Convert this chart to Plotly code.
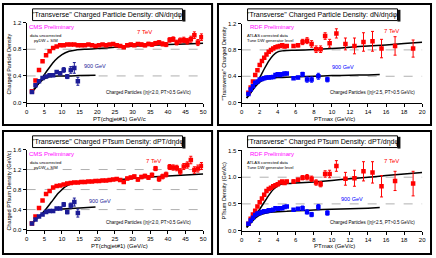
import plotly.graph_objects as go

W, H = 436, 258

# ---------------- data ----------------
# Panel 1: CMS, charged particle density vs PT(chgjet#1)
cms_x_7 = [1.5, 2.5, 3.5, 4.5, 5.5, 6.5, 7.5, 8.5, 9.5, 10.5, 11.5, 12.5, 13.5, 14.5, 15.5, 16.5, 17.5, 18.5, 19.5, 20.5,
           21.5, 22.5, 23.5, 24.5, 25.5, 26.5, 27.5, 28.5, 29.5, 30.5, 31.5, 32.5, 33.5, 34.5, 35.5, 36.5, 37.5, 38.5,
           39.5, 40.5, 41.5, 42.5, 43.5, 44.5, 45.5, 46.5, 47.5, 48.5, 49.5]
cms_dn_7 = [0.17, 0.33, 0.49, 0.62, 0.71, 0.77, 0.82, 0.84, 0.86, 0.86, 0.87, 0.87, 0.87, 0.86, 0.86, 0.86, 0.87, 0.86,
            0.85, 0.86, 0.87, 0.86, 0.87, 0.88, 0.86, 0.85, 0.83, 0.86, 0.87, 0.86, 0.88, 0.87, 0.86, 0.88, 0.87, 0.89,
            0.90, 0.88, 0.87, 0.94, 0.95, 0.90, 0.93, 0.94, 0.92, 0.95, 1.01, 0.90, 0.98]
cms_dn_7_err = [0.005, 0.005, 0.005, 0.005, 0.005, 0.005, 0.005, 0.005, 0.005, 0.006, 0.006, 0.007, 0.007, 0.008, 0.008,
                0.009, 0.009, 0.01, 0.01, 0.011, 0.012, 0.012, 0.013, 0.014, 0.015, 0.016, 0.017, 0.018, 0.019, 0.02,
                0.021, 0.022, 0.023, 0.024, 0.025, 0.027, 0.028, 0.03, 0.031, 0.033, 0.035, 0.036, 0.038, 0.04, 0.042,
                0.045, 0.05, 0.045, 0.05]
cms_x_900 = [1.5, 2.5, 3.5, 4.5, 5.5, 6.5, 7.5, 8.5, 9.5, 10.5, 11.5, 12.5, 13.5, 14.5]
cms_dn_900 = [0.16, 0.26, 0.32, 0.37, 0.39, 0.41, 0.41, 0.46, 0.44, 0.49, 0.39, 0.49, 0.52, 0.32]
cms_dn_900_err = [0.005, 0.005, 0.006, 0.008, 0.01, 0.012, 0.015, 0.018, 0.02, 0.035, 0.03, 0.05, 0.08, 0.06]
cms_dn_mc7_x = [1.5, 2.5, 3.5, 5, 6.5, 8, 10, 12, 14, 17, 20, 25, 30, 35, 40, 45, 50]
cms_dn_mc7 = [0.16, 0.22, 0.30, 0.42, 0.53, 0.63, 0.72, 0.77, 0.79, 0.80, 0.81, 0.83, 0.845, 0.86, 0.87, 0.88, 0.89]
cms_dn_mc900_x = [1.5, 2.5, 3.5, 4.5, 5.5, 7, 9, 12, 15, 19.5]
cms_dn_mc900 = [0.16, 0.23, 0.29, 0.34, 0.37, 0.39, 0.40, 0.40, 0.405, 0.41]

# Panel 2: RDF (ATLAS), transverse charged density vs PTmax
rdf_x_7 = [0.75, 1.0, 1.25, 1.5, 1.75, 2.0, 2.25, 2.5, 2.75, 3.0, 3.25, 3.5, 3.75, 4.0, 4.25, 4.5, 4.75, 5.0,
           5.75, 6.25, 6.75, 7.25, 7.75, 8.25, 8.75, 9.25, 9.75, 10.5, 11.5, 12.5, 13.5, 14.5, 15.5, 17.0, 19.0]
rdf_dn_7 = [0.15, 0.23, 0.32, 0.42, 0.49, 0.57, 0.63, 0.68, 0.73, 0.77, 0.80, 0.82, 0.84, 0.85, 0.86, 0.87, 0.85, 0.86,
            0.86, 0.87, 0.92, 0.94, 0.89, 0.81, 0.81, 1.01, 0.90, 1.05, 0.89, 0.86, 0.92, 0.93, 0.82, 0.86, 0.82]
rdf_dn_7_err = [0.005, 0.005, 0.006, 0.006, 0.007, 0.007, 0.008, 0.008, 0.009, 0.01, 0.01, 0.011, 0.012, 0.013, 0.014,
                0.015, 0.016, 0.018, 0.02, 0.025, 0.04, 0.045, 0.05, 0.05, 0.05, 0.05, 0.06, 0.07, 0.09, 0.12, 0.14,
                0.15, 0.14, 0.14, 0.13]
rdf_x_900 = [0.75, 1.0, 1.25, 1.5, 1.75, 2.0, 2.25, 2.5, 2.75, 3.0, 3.25, 3.5, 3.75, 4.0, 4.25, 4.5, 4.75, 5.0,
             5.75, 6.25, 6.75, 7.25, 7.75, 8.5, 9.5]
rdf_dn_900 = [0.13, 0.20, 0.25, 0.30, 0.32, 0.35, 0.36, 0.37, 0.38, 0.38, 0.385, 0.39, 0.42, 0.43, 0.42, 0.43, 0.44,
              0.44, 0.37, 0.38, 0.43, 0.35, 0.35, 0.40, 0.35]
rdf_dn_900_err = [0.005, 0.005, 0.005, 0.005, 0.006, 0.006, 0.007, 0.007, 0.008, 0.008, 0.009, 0.01, 0.01, 0.011,
                  0.012, 0.013, 0.014, 0.015, 0.02, 0.02, 0.03, 0.04, 0.04, 0.045, 0.035]
rdf_dn_mc7_x = [0.55, 1.0, 1.5, 2.0, 2.5, 3.0, 3.5, 4.0, 4.5, 5, 6, 8, 10, 12, 14, 16, 18, 20]
rdf_dn_mc7 = [0.07, 0.15, 0.26, 0.38, 0.51, 0.63, 0.72, 0.77, 0.785, 0.79, 0.795, 0.805, 0.82, 0.84, 0.86, 0.875,
              0.895, 0.915]
rdf_dn_mc900_x = [0.55, 1.0, 1.5, 2.0, 2.5, 3.0, 3.5, 4, 5, 6, 8, 10, 12, 14, 15.3]
rdf_dn_mc900 = [0.07, 0.15, 0.24, 0.31, 0.35, 0.37, 0.375, 0.38, 0.385, 0.39, 0.40, 0.41, 0.415, 0.42, 0.425]

# Panel 3: CMS, charged PTsum density vs PT(chgjet#1)
cms_pt_7 = [0.12, 0.26, 0.43, 0.58, 0.71, 0.77, 0.84, 0.87, 0.88, 0.90, 0.92, 0.93, 0.94, 0.94, 0.95, 0.95, 0.96,
            0.96, 0.97, 0.97, 0.98, 0.98, 0.99, 1.00, 1.01, 0.99, 0.95, 1.02, 1.04, 1.06, 1.00, 1.05, 1.07, 1.04,
            1.09, 1.22, 1.01, 1.06, 1.10, 1.25, 1.24, 1.23, 1.16, 1.26, 1.29, 1.39, 1.19, 1.22, 1.27]
cms_pt_7_err = [0.005, 0.005, 0.005, 0.006, 0.006, 0.007, 0.007, 0.008, 0.008, 0.009, 0.01, 0.01, 0.011, 0.012,
                0.013, 0.014, 0.015, 0.016, 0.017, 0.018, 0.019, 0.02, 0.021, 0.022, 0.023, 0.025, 0.026, 0.027,
                0.028, 0.03, 0.031, 0.033, 0.035, 0.037, 0.039, 0.042, 0.044, 0.046, 0.048, 0.05, 0.053, 0.055,
                0.057, 0.06, 0.062, 0.075, 0.065, 0.07, 0.07]
cms_pt_900 = [0.12, 0.20, 0.26, 0.30, 0.35, 0.37, 0.37, 0.42, 0.42, 0.50, 0.35, 0.48, 0.55, 0.33]
cms_pt_900_err = [0.005, 0.005, 0.008, 0.01, 0.01, 0.015, 0.015, 0.02, 0.02, 0.04, 0.035, 0.05, 0.08, 0.08]
cms_pt_mc7_x = [1.5, 3, 5, 7, 9, 11, 13, 15, 20, 25, 30, 35, 40, 45, 50]
cms_pt_mc7 = [0.12, 0.22, 0.37, 0.55, 0.73, 0.86, 0.92, 0.94, 0.96, 0.99, 1.02, 1.05, 1.07, 1.09, 1.11]
cms_pt_mc900_x = [1.5, 3, 5, 7, 10, 15, 19.5]
cms_pt_mc900 = [0.12, 0.24, 0.34, 0.39, 0.41, 0.43, 0.45]

# Panel 4: RDF (ATLAS), PTsum density vs PTmax
rdf_pt_7 = [0.13, 0.22, 0.30, 0.37, 0.45, 0.53, 0.60, 0.67, 0.74, 0.78, 0.80, 0.83, 0.85, 0.87, 0.90, 0.92, 0.89, 0.92,
            0.92, 0.95, 0.99, 1.00, 0.97, 0.90, 0.87, 1.06, 1.06, 1.21, 0.97, 0.98, 1.11, 1.09, 0.83, 0.93, 0.88]
rdf_pt_7_err = [0.005, 0.005, 0.006, 0.006, 0.007, 0.008, 0.008, 0.009, 0.01, 0.011, 0.012, 0.013, 0.014, 0.015,
                0.016, 0.018, 0.02, 0.022, 0.03, 0.03, 0.04, 0.05, 0.05, 0.05, 0.05, 0.06, 0.07, 0.1, 0.12, 0.15,
                0.18, 0.2, 0.2, 0.18, 0.23]
rdf_pt_900 = [0.13, 0.19, 0.24, 0.29, 0.32, 0.33, 0.35, 0.36, 0.36, 0.38, 0.38, 0.39, 0.42, 0.41, 0.42, 0.42, 0.44,
              0.45, 0.39, 0.41, 0.42, 0.35, 0.30, 0.44, 0.33]
rdf_pt_900_err = [0.005, 0.005, 0.005, 0.005, 0.006, 0.006, 0.007, 0.007, 0.008, 0.008, 0.009, 0.01, 0.01, 0.011,
                  0.012, 0.013, 0.014, 0.015, 0.02, 0.02, 0.04, 0.04, 0.04, 0.05, 0.04]
rdf_pt_mc7_x = [0.55, 1.0, 1.5, 2.0, 2.5, 3.0, 3.5, 4.0, 4.5, 5, 6, 8, 10, 12, 14, 16, 18, 20]
rdf_pt_mc7 = [0.06, 0.15, 0.27, 0.40, 0.53, 0.66, 0.77, 0.84, 0.87, 0.88, 0.89, 0.91, 0.94, 0.97, 1.00, 1.03, 1.06,
              1.09]
rdf_pt_mc900_x = [0.55, 1.0, 1.5, 2.0, 2.5, 3.0, 3.5, 4, 5, 6, 8, 10, 12, 14, 15.3]
rdf_pt_mc900 = [0.06, 0.14, 0.23, 0.29, 0.32, 0.34, 0.35, 0.355, 0.36, 0.37, 0.385, 0.40, 0.41, 0.42, 0.43]

# tick labels
ticks_x50 = [0, 5, 10, 15, 20, 25, 30, 35, 40, 45, 50]
ticks_x20 = [0, 2, 4, 6, 8, 10, 12, 14, 16, 18, 20]
ticks_y12 = [0.0, 0.4, 0.8, 1.2]
ticks_y16 = [0.0, 0.4, 0.8, 1.2, 1.6]
ticks_y15 = [0.0, 0.5, 1.0, 1.5]

# ---------------- styling / layout ----------------
FONT = "Liberation Sans, Arial, sans-serif"
RED = "#ff0000"
NAVY = "#1c1c96"
BLUE = "#0000ff"
MAGENTA = "#ff00ff"

fig = go.Figure()

panels = [
    dict(ox=0, oy=0, x7=cms_x_7, y7=cms_dn_7, e7=cms_dn_7_err, x9=cms_x_900, y9=cms_dn_900, e9=cms_dn_900_err,
         mx7=cms_dn_mc7_x, my7=cms_dn_mc7, mx9=cms_dn_mc900_x, my9=cms_dn_mc900, blue=NAVY,
         xr=[0, 50], xt=ticks_x50, yr=[0, 1.2], yt=ticks_y12, grid=[0.4, 0.8],
         title='"Transverse" Charged Particle Density: dN/dηdφ',
         xtitle="PT(chgjet#1) GeV/c", ytitle="Charged Particle Density",
         prelim="CMS Preliminary", note=["data uncorrected", "pyDW + SIM"], note_x=45, note_center=True,
         t7=(135, 30), t9=(81, 65), cp="Charged Particles (|η|<2.0, PT>0.5 GeV/c)", cp_pos=(103, 92),
         px=(25, 204), py=(20, 102), frame_h=125),
    dict(ox=218, oy=0, x7=rdf_x_7, y7=rdf_dn_7, e7=rdf_dn_7_err, x9=rdf_x_900, y9=rdf_dn_900, e9=rdf_dn_900_err,
         mx7=rdf_dn_mc7_x, my7=rdf_dn_mc7, mx9=rdf_dn_mc900_x, my9=rdf_dn_mc900, blue=BLUE,
         xr=[0, 20], xt=ticks_x20, yr=[0, 1.2], yt=ticks_y12, grid=[0.4, 0.8],
         title='"Transverse" Charged Particle Density: dN/dηdφ',
         xtitle="PTmax (GeV/c)", ytitle='"Transverse" Charged Density',
         prelim="RDF Preliminary", note=["ATLAS corrected data", "Tune DW generator level"], note_x=28,
         note_center=False,
         t7=(167, 29), t9=(115, 66), cp="Charged Particles (|η|<2.5, PT>0.5 GeV/c)", cp_pos=(113, 92),
         px=(25, 208), py=(21, 102), frame_h=125),
    dict(ox=0, oy=130, x7=cms_x_7, y7=cms_pt_7, e7=cms_pt_7_err, x9=cms_x_900, y9=cms_pt_900, e9=cms_pt_900_err,
         mx7=cms_pt_mc7_x, my7=cms_pt_mc7, mx9=cms_pt_mc900_x, my9=cms_pt_mc900, blue=NAVY,
         xr=[0, 50], xt=ticks_x50, yr=[0, 1.6], yt=ticks_y16, grid=[0.4, 0.8, 1.2],
         title='"Transverse" Charged PTsum Density: dPT/dηdφ',
         xtitle="PT(chgjet#1) (GeV/c)", ytitle="Charged PTsum Density (GeV/c)",
         prelim="CMS Preliminary", note=["data uncorrected", "pyDW + SIM"], note_x=45, note_center=True,
         t7=(144, 32), t9=(86, 73), cp="Charged Particles (|η|<2.0, PT>0.5 GeV/c)", cp_pos=(103, 95),
         px=(25, 204), py=(20, 102), frame_h=127),
    dict(ox=218, oy=130, x7=rdf_x_7, y7=rdf_pt_7, e7=rdf_pt_7_err, x9=rdf_x_900, y9=rdf_pt_900, e9=rdf_pt_900_err,
         mx7=rdf_pt_mc7_x, my7=rdf_pt_mc7, mx9=rdf_pt_mc900_x, my9=rdf_pt_mc900, blue=BLUE,
         xr=[0, 20], xt=ticks_x20, yr=[0, 1.5], yt=ticks_y15, grid=[0.5, 1.0],
         title='"Transverse" Charged PTsum Density: dPT/dηdφ',
         xtitle="PTmax (GeV/c)", ytitle="PTsum Density (GeV/c)",
         prelim="RDF Preliminary", note=["ATLAS corrected data", "Tune DW generator level"], note_x=28,
         note_center=False,
         t7=(167, 32), t9=(124, 71), cp="Charged Particles (|η|<2.5, PT>0.5 GeV/c)", cp_pos=(113, 95),
         px=(25, 208), py=(21, 103), frame_h=127),
]


def px2x(p):
    return p / W


def py2y(p):
    return 1 - p / H


shapes = []
annotations = []
layout_axes = {}

for i, p in enumerate(panels, start=1):
    ox, oy = p["ox"], p["oy"]
    xs = "" if i == 1 else str(i)
    xa, ya = "x" + xs, "y" + xs
    fw = 213 if ox == 0 else 217

    # panel frame
    shapes.append(dict(type="rect", xref="paper", yref="paper",
                       x0=px2x(ox + 1), x1=px2x(ox + fw), y0=py2y(oy + p["frame_h"]), y1=py2y(oy + 1),
                       line=dict(color="black", width=2), fillcolor="rgba(0,0,0,0)", layer="below"))

    # axes
    dx0, dx1 = px2x(ox + p["px"][0]), px2x(ox + p["px"][1])
    dy0, dy1 = py2y(oy + p["py"][1]), py2y(oy + p["py"][0])
    layout_axes["xaxis" + xs] = dict(domain=[dx0, dx1], range=p["xr"], tickvals=p["xt"],
                                     ticktext=[str(v) for v in p["xt"]], anchor=ya, ticklabeloverflow="allow",
                                     showline=True, linecolor="black", linewidth=1, ticks="outside", ticklen=3,
                                     tickcolor="black", tickfont=dict(size=6, family=FONT, color="black"),
                                     showgrid=False, zeroline=False)
    layout_axes["yaxis" + xs] = dict(domain=[dy0, dy1], range=p["yr"], tickvals=p["yt"],
                                     ticktext=["%.1f" % v for v in p["yt"]], anchor=xa, ticklabeloverflow="allow",
                                     showline=True, linecolor="black", linewidth=1, ticks="outside", ticklen=3,
                                     tickcolor="black", tickfont=dict(size=6, family=FONT, color="black"),
                                     showgrid=False, zeroline=False)

    # dashed reference lines
    for g in p["grid"]:
        shapes.append(dict(type="line", xref=xa + " domain", yref=ya, x0=0, x1=1, y0=g, y1=g,
                           line=dict(color="#b0b0b0", width=1, dash="dash"), layer="below"))

    # MC curves
    fig.add_trace(go.Scatter(x=p["mx7"], y=p["my7"], mode="lines", xaxis=xa, yaxis=ya,
                             line=dict(color="black", width=1.5, shape="spline", smoothing=0.6),
                             showlegend=False, hoverinfo="skip"))
    fig.add_trace(go.Scatter(x=p["mx9"], y=p["my9"], mode="lines", xaxis=xa, yaxis=ya,
                             line=dict(color="black", width=1.5, shape="spline", smoothing=0.6),
                             showlegend=False, hoverinfo="skip"))
    # data
    fig.add_trace(go.Scatter(x=p["x7"], y=p["y7"], mode="markers", xaxis=xa, yaxis=ya,
                             marker=dict(symbol="square", size=4.5, color=RED),
                             error_y=dict(type="data", array=p["e7"], color=RED, thickness=1, width=1.5),
                             showlegend=False))
    fig.add_trace(go.Scatter(x=p["x9"], y=p["y9"], mode="markers", xaxis=xa, yaxis=ya,
                             marker=dict(symbol="square", size=4.5, color=p["blue"]),
                             error_y=dict(type="data", array=p["e9"], color=p["blue"], thickness=1, width=1.5),
                             showlegend=False))

    # title box with shadow
    shapes.append(dict(type="rect", xref="paper", yref="paper",
                       x0=px2x(ox + 183), x1=px2x(ox + 186), y0=py2y(oy + 19), y1=py2y(oy + 7),
                       line=dict(width=0), fillcolor="#111111"))
    shapes.append(dict(type="rect", xref="paper", yref="paper",
                       x0=px2x(ox + 31), x1=px2x(ox + 183), y0=py2y(oy + 18), y1=py2y(oy + 6),
                       line=dict(color="black", width=1), fillcolor="white"))
    annotations.append(dict(text=p["title"], x=px2x(ox + 107), y=py2y(oy + 12), xref="paper", yref="paper",
                            xanchor="center", yanchor="middle", showarrow=False,
                            font=dict(size=7, family=FONT, color="black")))

    # axis titles
    annotations.append(dict(text=p["xtitle"], x=px2x(ox + 119), y=py2y(oy + 119), xref="paper", yref="paper",
                            xanchor="center", yanchor="middle", showarrow=False,
                            font=dict(size=6, family=FONT, color="black")))
    annotations.append(dict(text=p["ytitle"], x=px2x(ox + 7), y=py2y(oy + 62), xref="paper", yref="paper",
                            xanchor="center", yanchor="middle", showarrow=False, textangle=-90,
                            font=dict(size=5.5, family=FONT, color="black")))

    # labels
    annotations.append(dict(text=p["prelim"], x=px2x(ox + (25 if ox == 0 else 31)), y=py2y(oy + 25),
                            xref="paper", yref="paper", xanchor="left", yanchor="middle", showarrow=False,
                            font=dict(size=6, family=FONT, color=MAGENTA)))
    for k, line in enumerate(p["note"]):
        annotations.append(dict(text=line, x=px2x(ox + p["note_x"]), y=py2y(oy + 33 + 5 * k),
                                xref="paper", yref="paper",
                                xanchor="center" if p["note_center"] else "left", yanchor="middle",
                                showarrow=False, font=dict(size=4.2, family=FONT, color="black")))
    annotations.append(dict(text="7 TeV", x=px2x(ox + p["t7"][0]), y=py2y(oy + p["t7"][1]), xref="paper",
                            yref="paper", xanchor="left", yanchor="middle", showarrow=False,
                            font=dict(size=6, family=FONT, color=RED)))
    annotations.append(dict(text="900 GeV", x=px2x(ox + p["t9"][0]), y=py2y(oy + p["t9"][1]), xref="paper",
                            yref="paper", xanchor="left", yanchor="middle", showarrow=False,
                            font=dict(size=5.5, family=FONT, color=p["blue"])))
    annotations.append(dict(text=p["cp"], x=px2x(ox + p["cp_pos"][0]), y=py2y(oy + p["cp_pos"][1]), xref="paper",
                            yref="paper", xanchor="left", yanchor="middle", showarrow=False,
                            font=dict(size=4.5, family=FONT, color="black")))

fig.update_layout(width=W, height=H, margin=dict(l=0, r=0, t=0, b=0), paper_bgcolor="white",
                  plot_bgcolor="rgba(0,0,0,0)", shapes=shapes, annotations=annotations, **layout_axes)

fig.write_html("out.html", config=dict(displayModeBar=False),
               post_script="document.body.style.margin='0';document.body.style.overflow='hidden';")
